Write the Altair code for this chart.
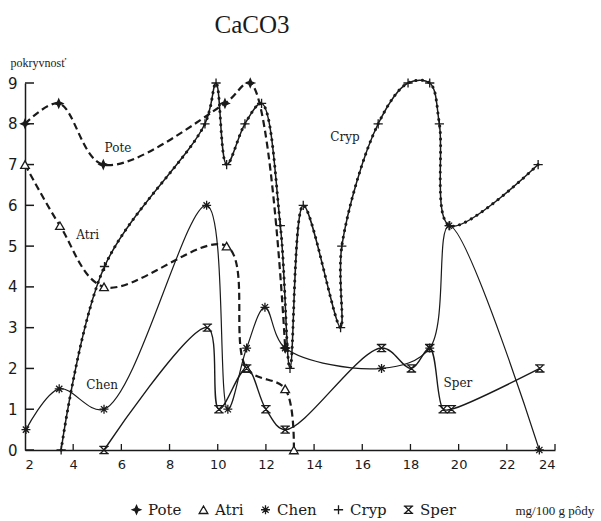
import altair as alt
import pandas as pd

# ---- data ----
series_names = ["Pote", "Atri", "Chen", "Cryp", "Sper"]

pote_x = [2.0, 3.4, 5.25, 10.3, 11.35, 12.8]
pote_y = [8.0, 8.5, 7.0, 8.5, 9.0, 2.5]

atri_x = [2.0, 3.45, 5.28, 10.37, 11.2, 12.8, 13.16]
atri_y = [7.0, 5.5, 4.0, 5.0, 2.0, 1.5, 0.0]

chen_x = [2.04, 3.42, 5.28, 9.54, 10.42, 11.2, 11.96, 12.8, 16.8, 18.8, 19.6, 23.35]
chen_y = [0.5, 1.5, 1.0, 6.0, 1.0, 2.5, 3.5, 2.5, 2.0, 2.5, 5.5, 0.0]

cryp_x = [3.5, 5.3, 9.47, 9.93, 10.37, 11.13, 11.82, 12.6, 13.0, 13.55, 15.1, 15.15, 16.66, 17.9, 18.8, 19.2, 19.63, 23.3]
cryp_y = [0.0, 4.5, 8.0, 9.0, 7.0, 8.0, 8.5, 5.5, 2.0, 6.0, 3.0, 5.0, 8.0, 9.0, 9.0, 8.0, 5.5, 7.0]

sper_x = [5.28, 9.57, 10.05, 11.2, 12.0, 12.8, 16.8, 18.04, 18.8, 19.36, 19.7, 23.37]
sper_y = [0.0, 3.0, 1.0, 2.0, 1.0, 0.5, 2.5, 2.0, 2.5, 1.0, 1.0, 2.0]

label_names = ["Pote", "Atri", "Chen", "Cryp", "Sper"]
label_x = [5.86, 4.6, 5.2, 15.28, 19.97]
label_y = [7.4, 5.27, 1.6, 7.67, 1.64]

y_ticks = list(range(0, 10))
x_ticks = list(range(2, 25, 2))

rows = []
for name, xs_, ys_ in zip(series_names,
                          [pote_x, atri_x, chen_x, cryp_x, sper_x],
                          [pote_y, atri_y, chen_y, cryp_y, sper_y]):
    for i, (a, b) in enumerate(zip(xs_, ys_)):
        rows.append({"series": name, "x": a, "y": b, "i": i})
df = pd.DataFrame(rows)
lab_df = pd.DataFrame({"label": label_names, "x": label_x, "y": label_y})
ytick_df = pd.DataFrame({"y": y_ticks})
xtick_df = pd.DataFrame({"x": x_ticks[1:]})

W, H = 530, 367
INK = "#1a1a1a"

xscale = alt.Scale(domain=[2, 24], nice=False, zero=False)
yscale = alt.Scale(domain=[0, 9], nice=False, zero=False)

xaxis = alt.Axis(values=x_ticks, ticks=False, grid=False, labelPadding=8,
                 labelFontSize=13, labelFont="DejaVu Sans", labelColor=INK,
                 domainColor=INK, domainWidth=1.5,
                 title="mg/100 g pôdy", titleX=490, titleY=64,
                 titleAlign="left", titleBaseline="alphabetic",
                 titleFont="Liberation Serif", titleFontSize=13,
                 titleFontWeight="normal", titleColor=INK)
yaxis = alt.Axis(values=y_ticks, ticks=False, grid=False, labelPadding=8,
                 labelFontSize=15, labelFont="DejaVu Sans", labelColor=INK,
                 domainColor=INK, domainWidth=1.5,
                 title="pokryvnosť", titleAngle=0, titleX=-15, titleY=-17,
                 titleAlign="left", titleBaseline="alphabetic",
                 titleFont="Liberation Serif", titleFontSize=12,
                 titleFontWeight="normal", titleColor=INK)

X = alt.X("x:Q", scale=xscale, axis=xaxis)
Y = alt.Y("y:Q", scale=yscale, axis=yaxis)

base = alt.Chart(df)


def line(name, **kw):
    return base.transform_filter(alt.datum.series == name).mark_line(
        interpolate="catmull-rom", color=INK, **kw
    ).encode(x=X, y=Y, order="i:Q")


lines = [
    line("Pote", strokeWidth=2.2, strokeDash=[7, 4]),
    line("Atri", strokeWidth=2.2, strokeDash=[7, 4]),
    line("Chen", strokeWidth=1.2),
    line("Cryp", strokeWidth=1.5),
    line("Cryp", strokeWidth=3.0, strokeDash=[0.1, 6.5], strokeCap="round"),
    line("Sper", strokeWidth=1.4),
]

shape_range = [
    "M0,-1L0.3,-0.3L1,0L0.3,0.3L0,1L-0.3,0.3L-1,0L-0.3,-0.3Z",
    "triangle-up",
    "M-1,0L1,0M0,-1L0,1M-0.7,-0.7L0.7,0.7M-0.7,0.7L0.7,-0.7",
    "M-1,0L1,0M0,-1L0,1",
    "M-1,-0.75L1,-0.75M-1,0.75L1,0.75M-0.75,-0.75L0.75,0.75M0.75,-0.75L-0.75,0.75",
]
fill_range = [INK, "white", "transparent", "transparent", "transparent"]
stroke_range = [INK] * 5
size_range = [70, 90, 150, 200, 110]

leg = alt.Legend(title=None, orient="none", legendX=104, legendY=419,
                 direction="horizontal", columns=5, labelFont="DejaVu Serif",
                 labelFontSize=15, labelColor=INK, columnPadding=14,
                 labelOffset=4, symbolStrokeWidth=1.3)

points = base.mark_point(filled=False, strokeWidth=1.3, opacity=1).encode(
    x=X, y=Y,
    shape=alt.Shape("series:N", scale=alt.Scale(domain=series_names, range=shape_range), legend=leg),
    fill=alt.Fill("series:N", scale=alt.Scale(domain=series_names, range=fill_range), legend=leg),
    stroke=alt.Stroke("series:N", scale=alt.Scale(domain=series_names, range=stroke_range), legend=leg),
    size=alt.Size("series:N", scale=alt.Scale(domain=series_names, range=size_range), legend=leg),
)

labels = alt.Chart(lab_df).mark_text(font="DejaVu Serif", fontSize=12, color=INK).encode(
    x=X, y=Y, text="label:N")

yt = alt.Chart(ytick_df).mark_rule(color=INK, strokeWidth=1.5).encode(
    y=alt.Y("y:Q", scale=yscale, axis=yaxis), x=alt.value(0), x2=alt.value(9))
xt = alt.Chart(xtick_df).mark_rule(color=INK, strokeWidth=1.3).encode(
    x=alt.X("x:Q", scale=xscale, axis=xaxis), y=alt.value(H), y2=alt.value(H - 6))

chart = alt.layer(yt, xt, *lines, points, labels).properties(
    width=W, height=H,
    title=alt.TitleParams("CaCO3", font="Liberation Serif", fontSize=25,
                          fontWeight="normal", color=INK, dx=-38, offset=18,
                          anchor="middle"),
    autosize=alt.AutoSizeParams(type="none"),
    padding={"left": 25, "top": 83, "right": 46, "bottom": 71},
).configure_view(stroke=None)

chart.save("out.html", embed_options={"renderer": "svg", "actions": False})
